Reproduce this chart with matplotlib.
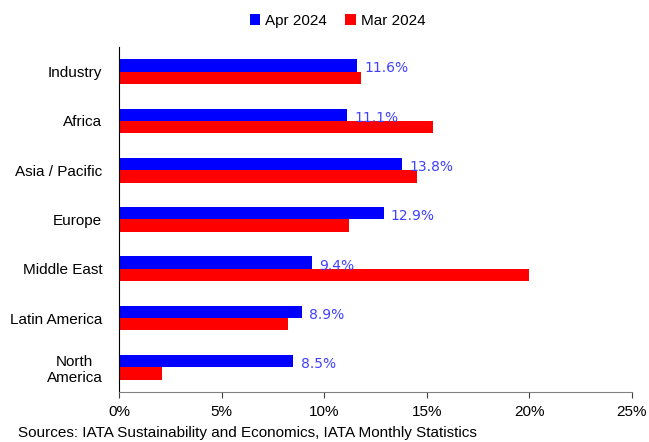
import numpy as np
import matplotlib
matplotlib.use('Agg')
import matplotlib.pyplot as plt

regions = ['Industry', 'Africa', 'Asia / Pacific', 'Europe', 'Middle East',
           'Latin America', 'North\nAmerica']
apr_2024 = [11.6, 11.1, 13.8, 12.9, 9.4, 8.9, 8.5]
mar_2024 = [11.8, 15.3, 14.5, 11.2, 20.0, 8.25, 2.1]
xticks = [0, 5, 10, 15, 20, 25]

plt.rcParams['font.family'] = ['Liberation Sans', 'DejaVu Sans']

fig = plt.figure(figsize=(6.49, 4.42), dpi=100)
ax = fig.add_axes([0.1834, 0.1131, 0.7904, 0.7806])

y = np.arange(len(regions))
h = 0.25
ax.barh(y - h / 2, apr_2024, height=h, color='#0000ff', label='Apr 2024')
ax.barh(y + h / 2, mar_2024, height=h, color='#ff0000', label='Mar 2024')

for yi, v in zip(y, apr_2024):
    ax.text(v + 0.35, yi - h / 2 + 0.06, f'{v:.1f}%', color='#4040ff',
            fontsize=10, family=['DejaVu Sans'], va='center', ha='left')

ax.set_ylim(len(regions) - 0.5, -0.5)
ax.set_xlim(0, 25)
ax.set_xticks(xticks)
ax.set_xticklabels([f'{t}%' for t in xticks], fontsize=11)
ax.set_yticks(y)
ax.set_yticklabels(regions, fontsize=11, multialignment='center')
ax.tick_params(axis='y', length=0, pad=12)
ax.tick_params(axis='x', direction='out', length=4, color='#404040', pad=5)

for s in ['top', 'right']:
    ax.spines[s].set_visible(False)
ax.spines['left'].set_color('black')
ax.spines['bottom'].set_color('#808080')

fig.legend(loc='center', bbox_to_anchor=(0.52, 0.953), ncol=2, frameon=False,
           fontsize=11, handlelength=0.7, handleheight=0.7, handletextpad=0.3,
           columnspacing=1.2)

fig.text(0.028, 0.004, 'Sources: IATA Sustainability and Economics, IATA Monthly Statistics',
         fontsize=11, ha='left', va='bottom')

fig.savefig('out.png', dpi=100)
